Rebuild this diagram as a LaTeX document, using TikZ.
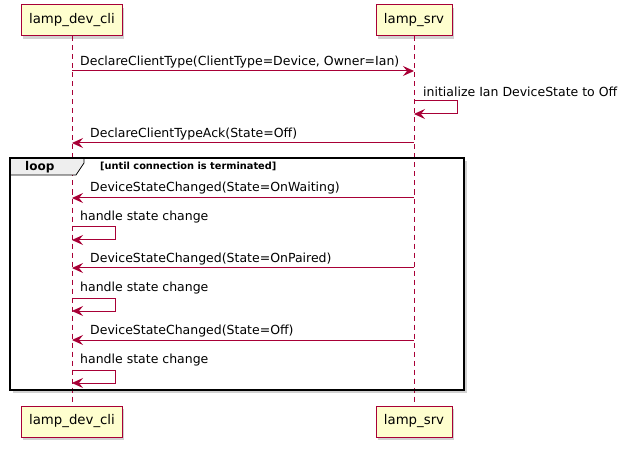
\documentclass[tikz,border=0pt]{standalone}
\usepackage{fontspec}
\setmainfont{DejaVu Sans}
\usetikzlibrary{arrows.meta}
\definecolor{pborder}{HTML}{A80036}
\definecolor{pfill}{HTML}{FEFECE}
\definecolor{tabfill}{HTML}{EEEEEE}
\tikzset{
  part/.style={draw=pborder, fill=pfill, line width=1bp, minimum height=31bp, inner sep=0pt, font=\fontsize{13.3bp}{15bp}\selectfont},
  life/.style={draw=pborder, line width=0.8bp, dash pattern=on 5bp off 4bp},
  msg/.style={draw=pborder, line width=1bp, -{Stealth[length=11bp,width=10bp,inset=4bp]}},
  lbl/.style={anchor=west, inner sep=0pt, font=\fontsize{12.5bp}{14bp}\selectfont},
}
\begin{document}
\begin{tikzpicture}[x=1bp,y=-1bp]
\useasboundingbox (0,0) rectangle (622,450);
% shadows of participants
\foreach \x/\w/\y in {20/101/5, 375/76/5, 20/101/406, 375/76/406}{
  \fill[black!18] (\x+3,\y+3) rectangle ++(\w,31);
}
% participants
\node[part, minimum width=101bp] (cliT) at (72,20.5) {lamp\_dev\_cli};
\node[part, minimum width=76bp] (srvT) at (414,20.5) {lamp\_srv};
\node[part, minimum width=101bp] (cliB) at (72,421.5) {lamp\_dev\_cli};
\node[part, minimum width=76bp] (srvB) at (414,421.5) {lamp\_srv};
% loop frame shadow and frame
\fill[black!18] (13,161) rectangle (467,393);
\fill[white] (10,158) rectangle (464,390);
% lifelines
\draw[life] (cliT.south) -- (cliB.north);
\draw[life] (srvT.south) -- (srvB.north);
% loop frame
\draw[fill=tabfill, line width=0.8bp] (10,158) -- (84,158) -- (84,163) -- (76,175) -- (10,175) -- cycle;
\draw[line width=1.6bp] (10,158) rectangle (464,390);
\node[anchor=west, inner sep=0pt, font=\bfseries\fontsize{12bp}{13bp}\selectfont] (looplbl) at (25,167) {loop};
\node[anchor=west, inner sep=0pt, font=\bfseries\fontsize{9.8bp}{11bp}\selectfont] (cond) at (100,166) {[until connection is terminated]};
% message 1
\node[lbl] (m1) at (80,62) {DeclareClientType(ClientType=Device, Owner=Ian)};
\draw[msg] (cliT |- 0,71) -- (srvT |- 0,71);
% self message on server
\node[lbl] (m2) at (423,92) {initialize Ian DeviceState to Off};
\draw[msg] (srvT |- 0,101) -- ++(43,0) -- ++(0,13) -- (srvT |- 0,114);
% ack
\node[lbl] (m3) at (90,134) {DeclareClientTypeAck(State=Off)};
\draw[msg] (srvT |- 0,143) -- (cliT |- 0,143);
% loop content
\node[lbl] (m4) at (90,188) {DeviceStateChanged(State=OnWaiting)};
\draw[msg] (srvT |- 0,198) -- (cliT |- 0,198);
\node[lbl] (m5) at (80,217) {handle state change};
\draw[msg] (cliT |- 0,227) -- ++(43,0) -- ++(0,13) -- (cliT |- 0,240);
\node[lbl] (m6) at (90,259) {DeviceStateChanged(State=OnPaired)};
\draw[msg] (srvT |- 0,268) -- (cliT |- 0,268);
\node[lbl] (m7) at (80,288) {handle state change};
\draw[msg] (cliT |- 0,298) -- ++(43,0) -- ++(0,13) -- (cliT |- 0,311);
\node[lbl] (m8) at (90,331) {DeviceStateChanged(State=Off)};
\draw[msg] (srvT |- 0,340) -- (cliT |- 0,340);
\node[lbl] (m9) at (80,360) {handle state change};
\draw[msg] (cliT |- 0,370) -- ++(43,0) -- ++(0,13) -- (cliT |- 0,383);
\end{tikzpicture}
\end{document}
